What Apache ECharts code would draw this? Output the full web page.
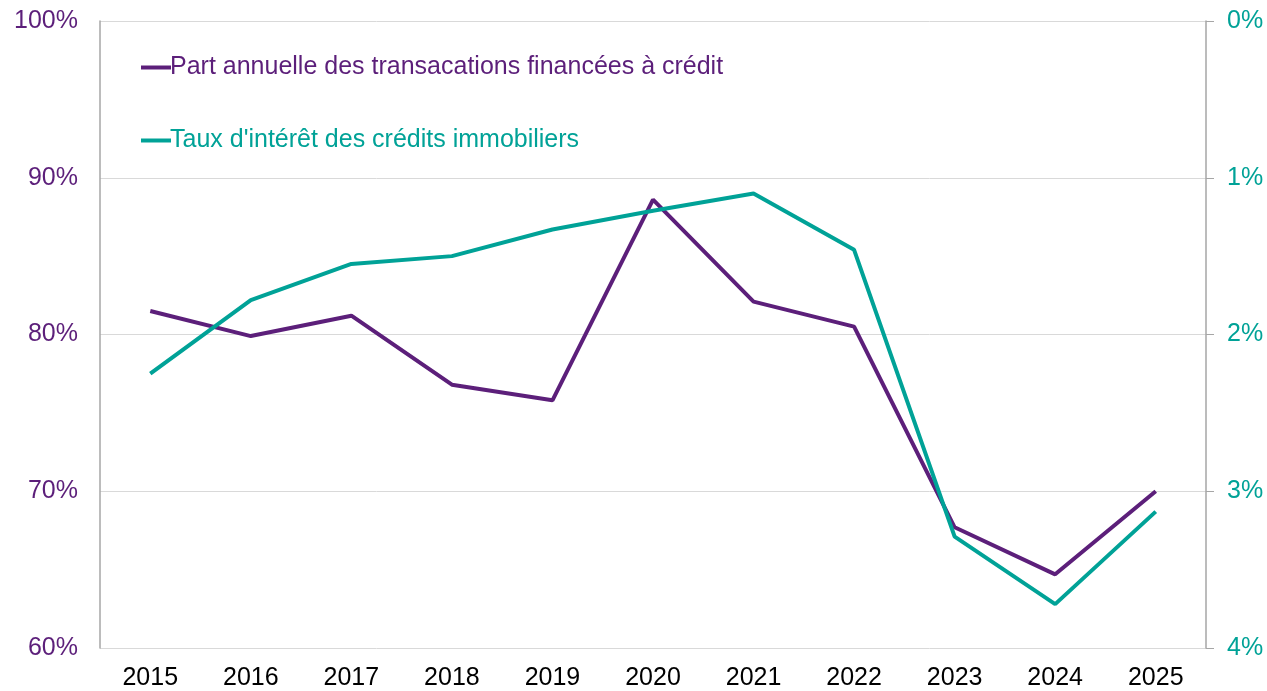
<!DOCTYPE html>
<html>
<head>
<meta charset="utf-8">
<script src="https://cdn.jsdelivr.net/npm/echarts@6/dist/echarts.min.js"></script>
<style>
html, body { margin: 0; padding: 0; background: #fff; }
#chart { width: 1267px; height: 691px; }
</style>
</head>
<body>
<div id="chart"></div>
<script>
"use strict";

/*****Data start*****/
var years = ['2015', '2016', '2017', '2018', '2019', '2020', '2021', '2022', '2023', '2024', '2025'];
var partCredit = [81.5, 79.9, 81.2, 76.8, 75.8, 88.6, 82.1, 80.5, 67.7, 64.7, 70.0];
var tauxInteret = [2.25, 1.78, 1.55, 1.50, 1.33, 1.21, 1.10, 1.46, 3.29, 3.72, 3.13];
var nameCredit = 'Part annuelle des transacations financées à crédit';
var nameTaux = "Taux d'intérêt des crédits immobiliers";
/*****Data end*****/

var purple = '#5c1f7a';
var teal = '#00a297';
var font = "'Liberation Sans', Arial, sans-serif";

var chart = echarts.init(document.getElementById('chart'));
var option = {
	animation: false,
	grid: {
		left: 100,
		right: 61,
		top: 21,
		bottom: 41
	},
	legend: {
		orient: 'vertical',
		left: 136,
		top: 50,
		itemWidth: 30,
		itemHeight: 4,
		itemGap: 48,
		icon: 'rect',
		textStyle: {
			fontFamily: font,
			fontSize: 25,
			padding: [0, 0, 0, -6]
		},
		data: [
			{ name: nameCredit, textStyle: { color: purple } },
			{ name: nameTaux, textStyle: { color: teal } }
		]
	},
	xAxis: {
		type: 'category',
		data: years,
		boundaryGap: true,
		axisLine: { show: false },
		axisTick: { show: false },
		axisLabel: {
			color: '#000',
			fontFamily: font,
			fontSize: 25,
			margin: 18
		}
	},
	yAxis: [
		{
			type: 'value',
			min: 60,
			max: 100,
			interval: 10,
			position: 'left',
			axisLine: { show: true, lineStyle: { color: '#a6a6a6', width: 1.5 } },
			axisTick: { show: false },
			axisLabel: {
				color: purple,
				fontFamily: font,
				fontSize: 25,
				margin: 22,
				formatter: '{value}%'
			},
			splitLine: { lineStyle: { color: '#d9d9d9', width: 1 } }
		},
		{
			type: 'value',
			min: 0,
			max: 4,
			interval: 1,
			inverse: true,
			position: 'right',
			axisLine: { show: true, lineStyle: { color: '#a6a6a6', width: 1.5 } },
			axisTick: { show: true, length: 8, lineStyle: { color: '#a6a6a6' } },
			axisLabel: {
				color: teal,
				fontFamily: font,
				fontSize: 25,
				margin: 21,
				formatter: '{value}%'
			},
			splitLine: { show: false }
		}
	],
	series: [
		{
			name: nameCredit,
			type: 'line',
			yAxisIndex: 0,
			data: partCredit,
			symbol: 'none',
			color: purple,
			lineStyle: { width: 4, color: purple }
		},
		{
			name: nameTaux,
			type: 'line',
			yAxisIndex: 1,
			data: tauxInteret,
			symbol: 'none',
			color: teal,
			lineStyle: { width: 4, color: teal }
		}
	]
};
chart.setOption(option);
</script>
</body>
</html>
